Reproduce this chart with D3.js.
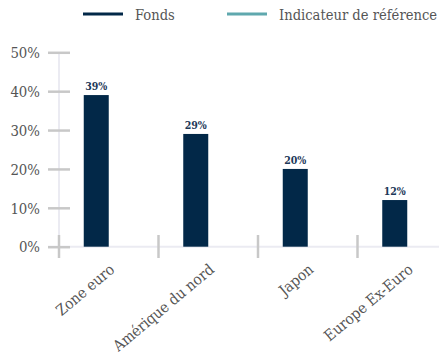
<!DOCTYPE html>
<html>
<head>
<meta charset="utf-8">
<script src="https://cdn.jsdelivr.net/npm/d3@7/dist/d3.min.js"></script>
<style>
  html, body { margin: 0; padding: 0; background: #fff; overflow: hidden; }
  svg { display: block; }
</style>
</head>
<body>
<svg id="chart" width="439" height="355"></svg>
<script>
// Répartition géographique du fonds
const categories = ["Zone euro", "Amérique du nord", "Japon", "Europe Ex-Euro"];
const fondsValues = [39, 29, 20, 12];
const indicateurValues = [null, null, null, null];
const yTicks = [0, 10, 20, 30, 40, 50];
const seriesNames = ["Fonds", "Indicateur de référence"];
const seriesColors = ["#022848", "#5fa8ae"];

const FONT = "'DejaVu Serif Condensed', 'DejaVu Serif', serif";
const svg = d3.select("#chart");

const x = d3.scaleBand().domain(categories).range([59, 457]);
const y = d3.scaleLinear().domain([0, 50]).range([246.7, 52.3]);
const barW = 25;

// Axis lines
svg.append("line").attr("x1", 48).attr("x2", 439).attr("y1", y(0)).attr("y2", y(0))
  .attr("stroke", "#ebebf2").attr("stroke-width", 2);
svg.append("line").attr("x1", 59).attr("x2", 59).attr("y1", y(50)).attr("y2", 258)
  .attr("stroke", "#ebebf2").attr("stroke-width", 2);

// Y axis ticks and labels
const yAxis = d3.axisLeft(y).tickValues(yTicks).tickFormat(d => d + "%").tickSize(0).tickPadding(0);
const gy = svg.append("g").call(yAxis);
gy.select(".domain").remove();
gy.selectAll(".tick text").remove();
gy.selectAll(".tick").append("line")
  .attr("x1", 48).attr("x2", 70).attr("stroke", "#c8c8c8").attr("stroke-width", 2.5);
gy.selectAll(".tick").append("text")
  .attr("x", 40).attr("dy", "0.35em").attr("text-anchor", "end")
  .attr("fill", "#555").style("font-family", FONT).style("font-size", "14.8px")
  .text(d => d + "%");

// X axis: ticks at band boundaries
const boundaries = categories.map(c => x(c));
svg.append("g").selectAll("line").data(boundaries).join("line")
  .attr("x1", d => d).attr("x2", d => d).attr("y1", 235).attr("y2", 258)
  .attr("stroke", "#c8c8c8").attr("stroke-width", 2.5);

// Category labels
svg.append("g").selectAll("text").data(categories).join("text")
  .attr("transform", d => `translate(${x(d) + x.bandwidth() / 2},${263}) rotate(-40)`)
  .attr("text-anchor", "end").attr("dy", "0.7em")
  .attr("fill", "#555").style("font-family", FONT).style("font-size", "15.2px")
  .text(d => d);

// Bars
const cx = c => x(c) + x.bandwidth() / 2;
svg.append("g").selectAll("rect").data(categories).join("rect")
  .attr("x", c => cx(c) - barW)
  .attr("width", barW)
  .attr("y", (c, i) => y(fondsValues[i]))
  .attr("height", (c, i) => y(0) - y(fondsValues[i]))
  .attr("fill", seriesColors[0]);
svg.append("g").selectAll("rect").data(categories.filter((c, i) => indicateurValues[i] != null)).join("rect")
  .attr("x", c => cx(c))
  .attr("width", barW)
  .attr("y", c => y(indicateurValues[categories.indexOf(c)]))
  .attr("height", c => y(0) - y(indicateurValues[categories.indexOf(c)]))
  .attr("fill", seriesColors[1]);

// Value labels
svg.append("g").selectAll("text").data(categories).join("text")
  .attr("x", c => cx(c) - barW / 2)
  .attr("y", (c, i) => y(fondsValues[i]) - 5)
  .attr("text-anchor", "middle")
  .attr("fill", "#1c3858").style("font-family", FONT).style("font-size", "10.5px").style("font-weight", "bold")
  .text((c, i) => fondsValues[i] + "%");

// Legend
const legendX = [83, 227];
seriesNames.forEach((name, i) => {
  svg.append("line").attr("x1", legendX[i]).attr("x2", legendX[i] + 40)
    .attr("y1", 14).attr("y2", 14).attr("stroke", seriesColors[i]).attr("stroke-width", 3);
  svg.append("text").attr("x", legendX[i] + 52).attr("y", 20)
    .attr("fill", "#555").style("font-family", FONT).style("font-size", "14.6px")
    .text(name);
});
</script>
</body>
</html>
